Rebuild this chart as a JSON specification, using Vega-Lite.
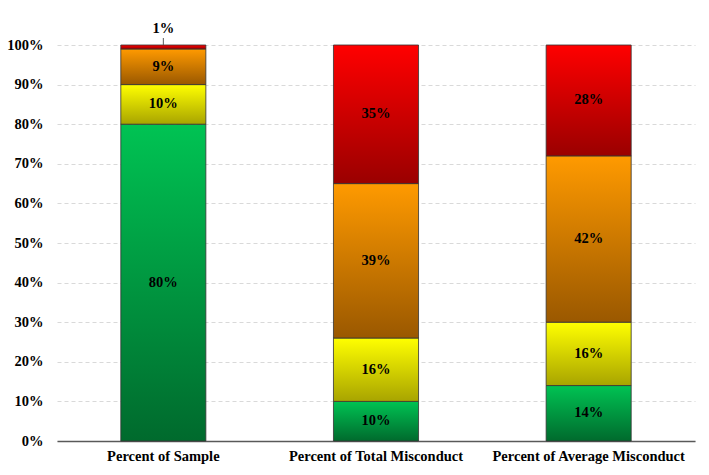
{
  "$schema": "https://vega.github.io/schema/vega-lite/v6.json",
  "width": 638,
  "height": 396,
  "autosize": "none",
  "padding": {"left": 57, "top": 45, "right": 14, "bottom": 34},
  "background": "white",
  "config": {"view": {"stroke": null}, "font": "'Liberation Serif', 'Times New Roman', serif",
    "axisY": {"title": null, "labelOverlap": false, "labelFont": "'Liberation Serif', 'Times New Roman', serif", "labelFontSize": 14.5, "labelFontWeight": "bold", "labelColor": "#000", "ticks": false, "domain": false, "labelPadding": 14, "gridColor": "#d9d9d9", "gridDash": [4, 3], "gridWidth": 1}},
  "data": {"values": [
    {"bar": "Percent of Sample", "level": "Low", "order": 1, "value": 80},
    {"bar": "Percent of Sample", "level": "Moderate", "order": 2, "value": 10},
    {"bar": "Percent of Sample", "level": "High", "order": 3, "value": 9},
    {"bar": "Percent of Sample", "level": "Very High", "order": 4, "value": 1},
    {"bar": "Percent of Total Misconduct", "level": "Low", "order": 1, "value": 10},
    {"bar": "Percent of Total Misconduct", "level": "Moderate", "order": 2, "value": 16},
    {"bar": "Percent of Total Misconduct", "level": "High", "order": 3, "value": 39},
    {"bar": "Percent of Total Misconduct", "level": "Very High", "order": 4, "value": 35},
    {"bar": "Percent of Average Misconduct", "level": "Low", "order": 1, "value": 14},
    {"bar": "Percent of Average Misconduct", "level": "Moderate", "order": 2, "value": 16},
    {"bar": "Percent of Average Misconduct", "level": "High", "order": 3, "value": 42},
    {"bar": "Percent of Average Misconduct", "level": "Very High", "order": 4, "value": 28}
  ]},
  "transform": [
    {"stack": "value", "groupby": ["bar"], "sort": [{"field": "order"}], "as": ["y0", "y1"]},
    {"calculate": "(datum.y0 + datum.y1) / 2", "as": "ymid"},
    {"calculate": "datum.value + '%'", "as": "label"}
  ],
  "encoding": {
    "x": {
      "field": "bar", "type": "nominal", "sort": null,
      "scale": {"paddingInner": 0.6, "paddingOuter": 0.3},
      "axis": {"title": null, "labelAngle": 0, "labelFont": "'Liberation Serif', 'Times New Roman', serif", "labelFontSize": 14.5, "labelFontWeight": "bold", "labelColor": "#000", "labelLimit": 400, "ticks": false, "domainColor": "#595959", "domainWidth": 1.3, "labelPadding": 8}
    }
  },
  "layer": [
    {
      "transform": [{"filter": "datum.level == 'Low'"}],
      "mark": {"type": "bar", "stroke": "#333333", "strokeWidth": 0.8,
        "color": {"gradient": "linear", "x1": 0, "y1": 0, "x2": 0, "y2": 1, "stops": [{"offset": 0, "color": "#00c353"}, {"offset": 1, "color": "#006a2d"}]}},
      "encoding": {
        "y": {"field": "y0", "type": "quantitative", "scale": {"domain": [0, 100]},
          "axis": {"values": [0,10,20,30,40,50,60,70,80,90,100], "labelExpr": "datum.value + '%'"}},
        "y2": {"field": "y1"}
      }
    },
    {
      "transform": [{"filter": "datum.level == 'Moderate'"}],
      "mark": {"type": "bar", "stroke": "#333333", "strokeWidth": 0.8,
        "color": {"gradient": "linear", "x1": 0, "y1": 0, "x2": 0, "y2": 1, "stops": [{"offset": 0, "color": "#ffff00"}, {"offset": 1, "color": "#a8a400"}]}},
      "encoding": {"y": {"field": "y0", "type": "quantitative", "axis": {"values": [0,10,20,30,40,50,60,70,80,90,100], "labelExpr": "datum.value + '%'"}}, "y2": {"field": "y1"}}
    },
    {
      "transform": [{"filter": "datum.level == 'High'"}],
      "mark": {"type": "bar", "stroke": "#333333", "strokeWidth": 0.8,
        "color": {"gradient": "linear", "x1": 0, "y1": 0, "x2": 0, "y2": 1, "stops": [{"offset": 0, "color": "#ff9a00"}, {"offset": 1, "color": "#9a5800"}]}},
      "encoding": {"y": {"field": "y0", "type": "quantitative", "axis": {"values": [0,10,20,30,40,50,60,70,80,90,100], "labelExpr": "datum.value + '%'"}}, "y2": {"field": "y1"}}
    },
    {
      "transform": [{"filter": "datum.level == 'Very High'"}],
      "mark": {"type": "bar", "stroke": "#333333", "strokeWidth": 0.8,
        "color": {"gradient": "linear", "x1": 0, "y1": 0, "x2": 0, "y2": 1, "stops": [{"offset": 0, "color": "#ff0000"}, {"offset": 1, "color": "#9a0000"}]}},
      "encoding": {"y": {"field": "y0", "type": "quantitative", "axis": {"values": [0,10,20,30,40,50,60,70,80,90,100], "labelExpr": "datum.value + '%'"}}, "y2": {"field": "y1"}}
    },
    {
      "transform": [{"filter": "datum.value >= 5"}],
      "mark": {"type": "text", "font": "'Liberation Serif', 'Times New Roman', serif", "fontSize": 14.5, "fontWeight": "bold", "color": "#000"},
      "encoding": {"y": {"field": "ymid", "type": "quantitative", "axis": {"values": [0,10,20,30,40,50,60,70,80,90,100], "labelExpr": "datum.value + '%'"}}, "text": {"field": "label"}}
    },
    {
      "transform": [{"filter": "datum.value < 5"}],
      "mark": {"type": "rule", "color": "#595959", "strokeWidth": 1, "y2Offset": -7},
      "encoding": {"y": {"field": "y1", "type": "quantitative", "axis": {"values": [0,10,20,30,40,50,60,70,80,90,100], "labelExpr": "datum.value + '%'"}}, "y2": {"field": "y1"}}
    },
    {
      "transform": [{"filter": "datum.value < 5"}],
      "mark": {"type": "text", "font": "'Liberation Serif', 'Times New Roman', serif", "fontSize": 14.5, "fontWeight": "bold", "color": "#000", "dy": -16},
      "encoding": {"y": {"field": "y1", "type": "quantitative", "axis": {"values": [0,10,20,30,40,50,60,70,80,90,100], "labelExpr": "datum.value + '%'"}}, "text": {"field": "label"}}
    }
  ]
}
